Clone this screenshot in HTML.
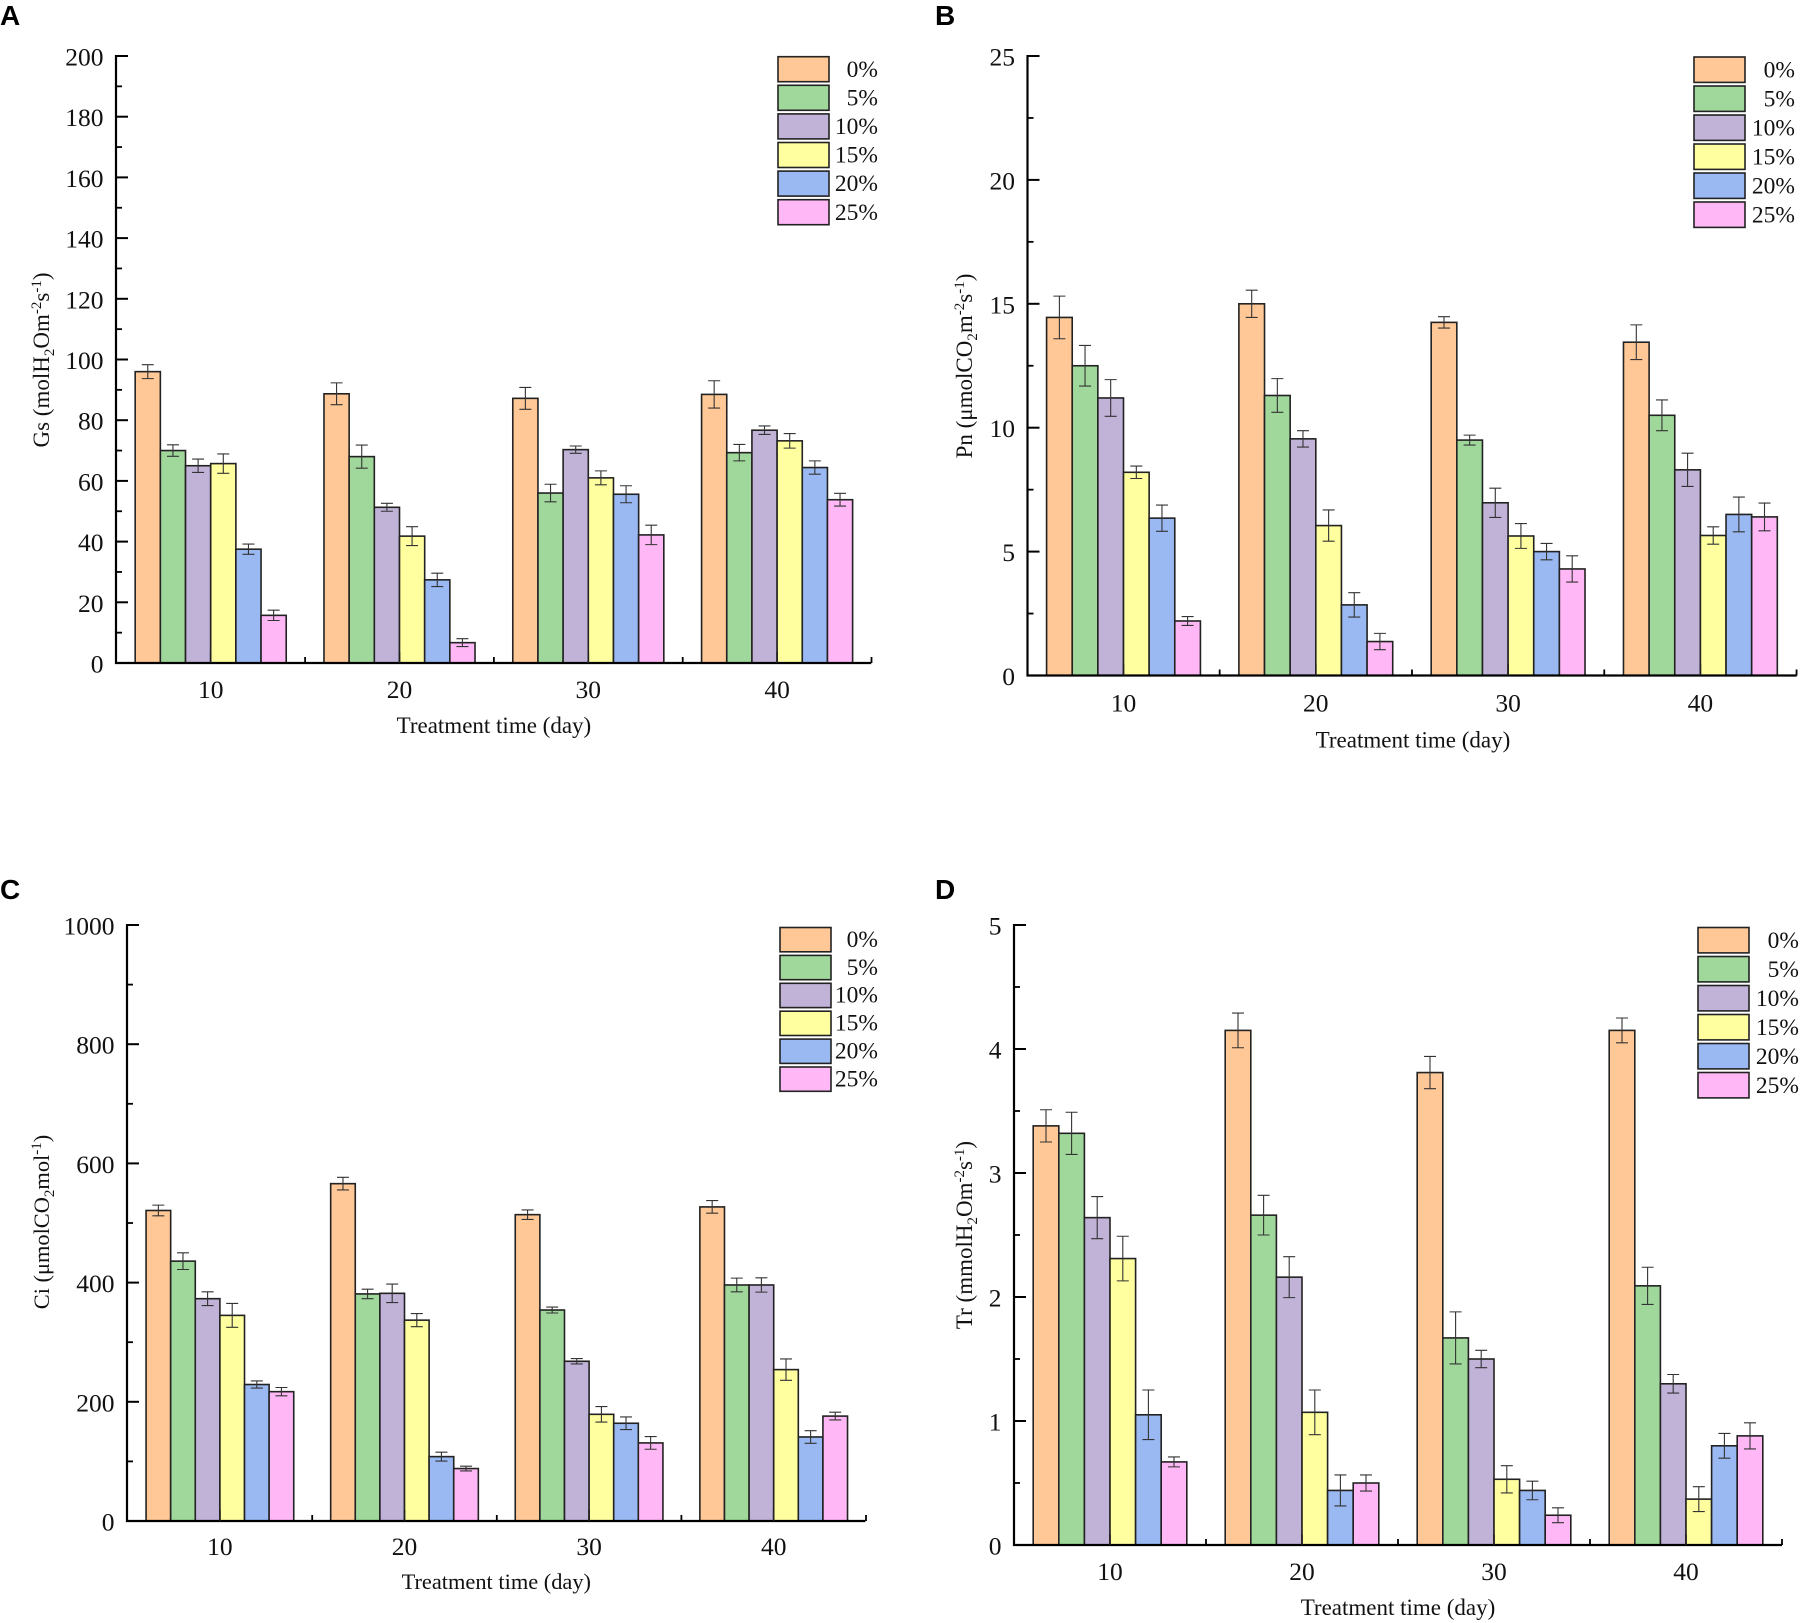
<!DOCTYPE html>
<html lang="en">
<head>
<meta charset="utf-8">
<title>Gas exchange parameters under treatment</title>
<style>
html,body{margin:0;padding:0;background:#fff}
svg{display:block}
text{font-family:"Liberation Serif",serif;fill:#111}
.letter{font-family:"Liberation Sans",sans-serif;font-weight:700;font-size:28px;fill:#000}
</style>
</head>
<body>
<svg id="figure" xmlns="http://www.w3.org/2000/svg" width="1800" height="1623" viewBox="0 0 1800 1623">
<rect x="0" y="0" width="1800" height="1623" fill="#fff"/>
<text class="letter" x="0" y="25">A</text>
<text class="letter" x="935" y="25">B</text>
<text class="letter" x="0" y="899">C</text>
<text class="letter" x="935" y="899">D</text>
</svg>
<script>
const categories = ["10", "20", "30", "40"];
const seriesNames = ["0%", "5%", "10%", "15%", "20%", "25%"];
const seriesColors = ["#FFC896", "#A0D89C", "#C1B2D8", "#FFFFA0", "#9AB8F2", "#FFB8F5"];

const gsMeans = [
  [96, 70, 65, 65.7, 37.5, 15.7],
  [88.7, 68, 51.3, 41.8, 27.4, 6.7],
  [87.2, 56, 70.3, 61, 55.6, 42.2],
  [88.5, 69.3, 76.7, 73.2, 64.4, 53.8]
];
const gsErrors = [
  [2.3, 1.9, 2.2, 3.2, 1.7, 1.7],
  [3.6, 3.8, 1.3, 3.1, 2.2, 1.3],
  [3.6, 2.9, 1.2, 2.3, 2.8, 3.2],
  [4.5, 2.7, 1.4, 2.4, 2.2, 2.1]
];
const gsTicks = [0, 20, 40, 60, 80, 100, 120, 140, 160, 180, 200];

const pnMeans = [
  [14.45, 12.5, 11.2, 8.2, 6.35, 2.2],
  [15, 11.3, 9.55, 6.05, 2.85, 1.37],
  [14.25, 9.5, 6.97, 5.63, 5.0, 4.3],
  [13.45, 10.5, 8.3, 5.65, 6.5, 6.4]
];
const pnErrors = [
  [0.86, 0.82, 0.74, 0.25, 0.53, 0.18],
  [0.55, 0.68, 0.33, 0.63, 0.49, 0.33],
  [0.23, 0.2, 0.59, 0.5, 0.33, 0.53],
  [0.7, 0.62, 0.67, 0.35, 0.7, 0.56]
];
const pnTicks = [0, 5, 10, 15, 20, 25];

const ciMeans = [
  [521, 436, 373, 345, 229, 217],
  [566, 381, 382, 337, 108, 88],
  [514, 354, 268, 179, 164, 131],
  [527, 396, 396, 254, 141, 176]
];
const ciErrors = [
  [9, 14, 11.5, 20, 6, 7],
  [10.6, 8, 15.5, 11, 7.4, 4],
  [8, 5, 4.5, 13, 10.6, 10.6],
  [10.6, 11.5, 12, 18, 10.6, 6.5]
];
const ciTicks = [0, 200, 400, 600, 800, 1000];

const trMeans = [
  [3.38, 3.32, 2.64, 2.31, 1.05, 0.67],
  [4.15, 2.66, 2.16, 1.07, 0.44, 0.5],
  [3.81, 1.67, 1.5, 0.53, 0.44, 0.24],
  [4.15, 2.09, 1.3, 0.37, 0.8, 0.88]
];
const trErrors = [
  [0.13, 0.17, 0.17, 0.18, 0.2, 0.04],
  [0.14, 0.16, 0.165, 0.18, 0.125, 0.065],
  [0.13, 0.21, 0.07, 0.11, 0.075, 0.06],
  [0.1, 0.15, 0.075, 0.1, 0.1, 0.105]
];
const trTicks = [0, 1, 2, 3, 4, 5];

const xAxisTitle = "Treatment time (day)";
const SVGNS = "http://www.w3.org/2000/svg";
const root = document.getElementById("figure");

function make(parent, tag, attrs) {
  const node = document.createElementNS(SVGNS, tag);
  for (const k in attrs) node.setAttribute(k, attrs[k]);
  parent.appendChild(node);
  return node;
}

function drawPanel(cfg) {
  const g = make(root, "g", {});
  
  

  const maxY = cfg.ticks[cfg.ticks.length - 1];
  const yScale = v => cfg.y0 - (v / maxY) * (cfg.y0 - cfg.yTop);
  const groupX = i => cfg.x10 + i * cfg.spacing;
  const barW = cfg.spacing * 0.8 / seriesNames.length;

  // bars
  cfg.means.forEach((row, i) => {
    row.forEach((v, s) => {
      const left = groupX(i) - 3 * barW + s * barW;
      const bar = make(g, "rect", {
        x: left, y: yScale(v), width: barW, height: cfg.y0 - yScale(v),
        fill: seriesColors[s], stroke: "#222", "stroke-width": 1.6
      });
      
      
    });
  });

  // error bars
  cfg.means.forEach((row, i) => {
    row.forEach((v, s) => {
      const cx = groupX(i) - 3 * barW + (s + 0.5) * barW;
      const e = cfg.errors[i][s];
      const hi = yScale(v + e), lo = yScale(v - e);
      const d = `M${cx - 6} ${hi}H${cx + 6}M${cx} ${hi}V${lo}M${cx - 6} ${lo}H${cx + 6}`;
      const err = make(g, "path", { d: d, fill: "none", stroke: "#333", "stroke-width": 1.1 });
      
      
    });
  });

  // y axis
  const yAxis = make(g, "g", {});
  
  
  make(yAxis, "line", { x1: cfg.x0, x2: cfg.x0, y1: cfg.yTop - 1, y2: cfg.y0 + 1, stroke: "#000", "stroke-width": 2.2 });
  cfg.ticks.forEach((t, i) => {
    const y = yScale(t);
    make(yAxis, "line", { x1: cfg.x0, x2: cfg.x0 + 12, y1: y, y2: y, stroke: "#000", "stroke-width": 2 });
    if (i < cfg.ticks.length - 1) {
      const ym = yScale((t + cfg.ticks[i + 1]) / 2);
      make(yAxis, "line", { x1: cfg.x0, x2: cfg.x0 + 6, y1: ym, y2: ym, stroke: "#000", "stroke-width": 1.8 });
    }
    const label = make(yAxis, "text", { x: cfg.x0 - 12.5, y: y + 9.5, "text-anchor": "end", "font-size": 25.5 });
    
    
    label.textContent = t;
  });

  // x axis
  const xAxis = make(g, "g", {});
  
  
  make(xAxis, "line", { x1: cfg.x0 - 1, x2: cfg.x0 + 4 * cfg.spacing, y1: cfg.y0, y2: cfg.y0, stroke: "#000", "stroke-width": 2.2 });
  categories.forEach((c, i) => {
    const x = groupX(i);
    make(xAxis, "line", { x1: x, x2: x, y1: cfg.y0, y2: cfg.y0 - 11, stroke: "#222", "stroke-width": 1.6 });
    const xm = x + cfg.spacing / 2;
    make(xAxis, "line", { x1: xm, x2: xm, y1: cfg.y0, y2: cfg.y0 - 6, stroke: "#000", "stroke-width": 1.8 });
    const label = make(xAxis, "text", { x: x, y: cfg.y0 + cfg.tickDy, "text-anchor": "middle", "font-size": 25.5 });
    
    
    label.textContent = c;
  });

  // axis titles
  const xTitle = make(g, "text", { x: cfg.x10 + 1.5 * cfg.spacing + cfg.titleShift, y: cfg.y0 + cfg.titleDy, "text-anchor": "middle", "font-size": cfg.titleSize });
  
  
  xTitle.textContent = xAxisTitle;

  const yTitle = make(g, "text", { transform: `translate(${cfg.yTitleX} ${cfg.yTitleY}) rotate(-90)`, "text-anchor": "middle", "font-size": cfg.titleSize });
  
  
  yTitle.innerHTML = cfg.yTitle;

  // legend
  const legend = make(g, "g", {});
  
  
  seriesNames.forEach((n, s) => {
    const top = cfg.legendTop + s * cfg.legendStep;
    const entry = make(legend, "g", {});
    
    
    make(entry, "rect", { x: cfg.legendX, y: top, width: 51, height: cfg.legendStep - 3.6, fill: seriesColors[s], stroke: "#222", "stroke-width": 1.6 });
    const t = make(entry, "text", { x: cfg.legendRight, y: top + cfg.legendStep - 8.5, "text-anchor": "end", "font-size": 23.5 });
    t.textContent = n;
  });
}

const sub = s => `<tspan dy="5" font-size="15">${s}</tspan>`;
const sup = s => `<tspan dy="-8" font-size="15">${s}</tspan>`;
const up = (d, s) => `<tspan dy="${d}">${s}</tspan>`;

drawPanel({
  id: "gs", means: gsMeans, errors: gsErrors, ticks: gsTicks,
  x0: 116, x10: 210.7, spacing: 188.8, y0: 663, yTop: 56,
  tickDy: 35, titleDy: 70, titleShift: 0, titleSize: 23,
  yTitleX: 49, yTitleY: 360,
  yTitle: "Gs (molH" + sub("2") + up(-5, "Om") + sup("-2") + up(8, "s") + sup("-1") + up(8, ")"),
  legendX: 778, legendTop: 56.7, legendStep: 28.6, legendRight: 878
});
drawPanel({
  id: "pn", means: pnMeans, errors: pnErrors, ticks: pnTicks,
  x0: 1027.5, x10: 1123.5, spacing: 192.3, y0: 675.5, yTop: 56,
  tickDy: 36, titleDy: 72, titleShift: 1, titleSize: 23,
  yTitleX: 972, yTitleY: 366,
  yTitle: "Pn (μmolCO" + sub("2") + up(-5, "m") + sup("-2") + up(8, "s") + sup("-1") + up(8, ")"),
  legendX: 1694, legendTop: 57, legendStep: 29, legendRight: 1795
});
drawPanel({
  id: "ci", means: ciMeans, errors: ciErrors, ticks: ciTicks,
  x0: 127, x10: 219.9, spacing: 184.6, y0: 1521, yTop: 925,
  tickDy: 34, titleDy: 68, titleShift: -0.5, titleSize: 22.4,
  yTitleX: 49, yTitleY: 1222,
  yTitle: "Ci (μmolCO" + sub("2") + up(-5, "mol") + sup("-1") + up(8, ")"),
  legendX: 780, legendTop: 927.5, legendStep: 27.9, legendRight: 878
});
drawPanel({
  id: "tr", means: trMeans, errors: trErrors, ticks: trTicks,
  x0: 1014, x10: 1110, spacing: 192, y0: 1545, yTop: 925,
  tickDy: 35, titleDy: 70, titleShift: 0, titleSize: 23,
  yTitleX: 972, yTitleY: 1235,
  yTitle: "Tr (mmolH" + sub("2") + up(-5, "Om") + sup("-2") + up(8, "s") + sup("-1") + up(8, ")"),
  legendX: 1698, legendTop: 927.5, legendStep: 29, legendRight: 1799
});
</script>
</body>
</html>
